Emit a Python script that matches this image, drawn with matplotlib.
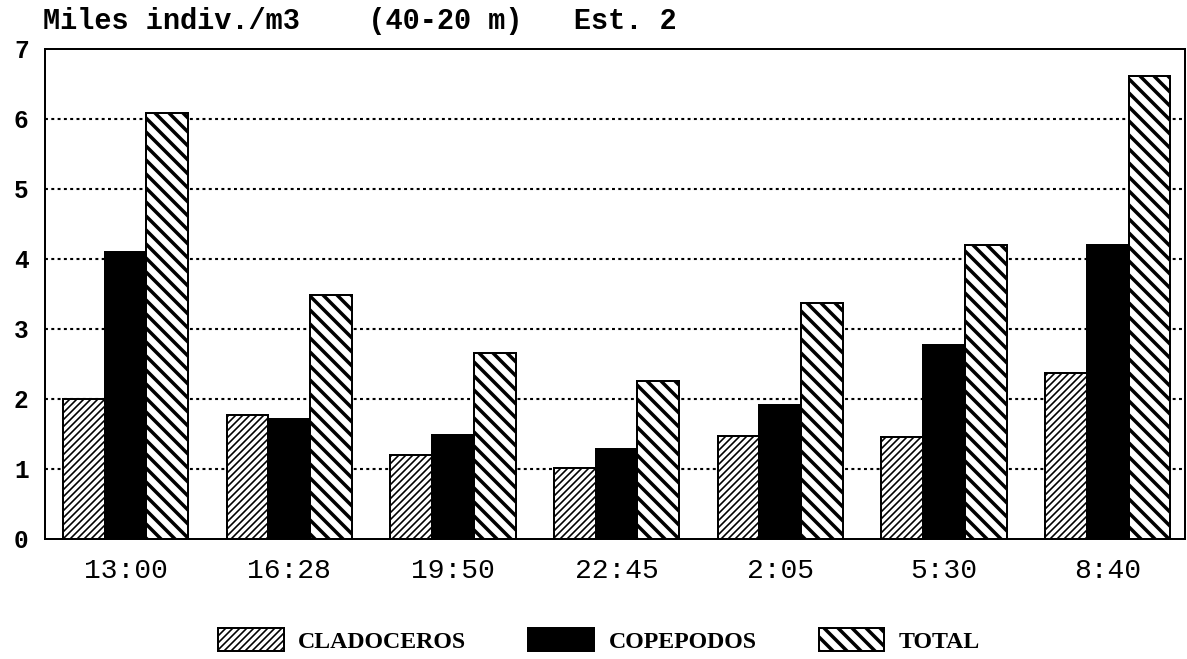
import matplotlib
matplotlib.use("Agg")
import matplotlib.pyplot as plt
import numpy as np

# --- Data (thousands of individuals per m3, 40-20 m layer, station 2) ---
times = ["13:00", "16:28", "19:50", "22:45", "2:05", "5:30", "8:40"]
cladoceros = [2.0, 1.77, 1.2, 1.01, 1.47, 1.46, 2.37]
copepodos = [4.1, 1.72, 1.49, 1.29, 1.91, 2.77, 4.2]
total = [6.09, 3.49, 2.66, 2.26, 3.37, 4.2, 6.61]
series_names = ["CLADOCEROS", "COPEPODOS", "TOTAL"]
yticks = [0, 1, 2, 3, 4, 5, 6, 7]

DPI = 84
fig = plt.figure(figsize=(1187 / DPI, 659 / DPI), dpi=DPI)
ax = fig.add_axes([0.0379, 0.1821, 0.9604, 0.7436])

x = np.arange(len(times))
w = 0.255
edge_lw = 1.7

# --- Bars, one call per series so each gets its own hatch weight ---
series = [
    (cladoceros, -w, "white", "////", 1.4),
    (copepodos, 0.0, "black", None, 1.0),
    (total, w, "white", "\\\\", 3.0),
]
hatch_lws = []
for (vals, off, fc, hatch, hlw), name in zip(series, series_names):
    with plt.rc_context({"hatch.linewidth": hlw, "hatch.color": "black"}):
        bars = ax.bar(x + off, vals, width=w, facecolor=fc, edgecolor="black",
                      linewidth=edge_lw, hatch=hatch, label=name, zorder=3)
        for b in bars:
            if hasattr(b, "set_hatch_linewidth"):
                b.set_hatch_linewidth(hlw)
    hatch_lws.append(hlw)

# --- Axes styling ---
ax.set_xlim(-0.492, 6.472)
ax.set_ylim(0, 7)
ax.set_yticks(yticks)
ax.set_xticks(x)
ax.set_xticklabels(times, fontfamily="Liberation Mono", fontsize=24)
ax.set_yticklabels([str(v) for v in yticks], fontfamily="Liberation Mono",
                   fontsize=21, fontweight="bold")
ax.tick_params(axis="both", length=0)
ax.tick_params(axis="y", pad=14)
ax.tick_params(axis="x", pad=16)

for v in yticks[1:-1]:
    ax.axhline(v, color="black", linewidth=1.8, linestyle=(0, (1.4, 1.6)), zorder=1)

for s in ax.spines.values():
    s.set_linewidth(1.7)
    s.set_color("black")

fig.text(0.0362, 1 - 29 / 659, "Miles indiv./m3    (40-20 m)   Est. 2",
         fontfamily="Liberation Mono", fontsize=24.5, fontweight="bold",
         va="baseline", ha="left")

leg = fig.legend(loc="center", bbox_to_anchor=(0.5046, 0.028), ncol=3, frameon=False,
                 prop={"family": "Liberation Serif", "weight": "bold", "size": 20.5},
                 handlelength=2.75, handleheight=1.1, handletextpad=0.6,
                 columnspacing=2.6, borderpad=0.0)
for h, hlw in zip(leg.legend_handles, hatch_lws):
    if hasattr(h, "set_hatch_linewidth"):
        h.set_hatch_linewidth(hlw)

fig.savefig("out.png", dpi=DPI, facecolor="white")
